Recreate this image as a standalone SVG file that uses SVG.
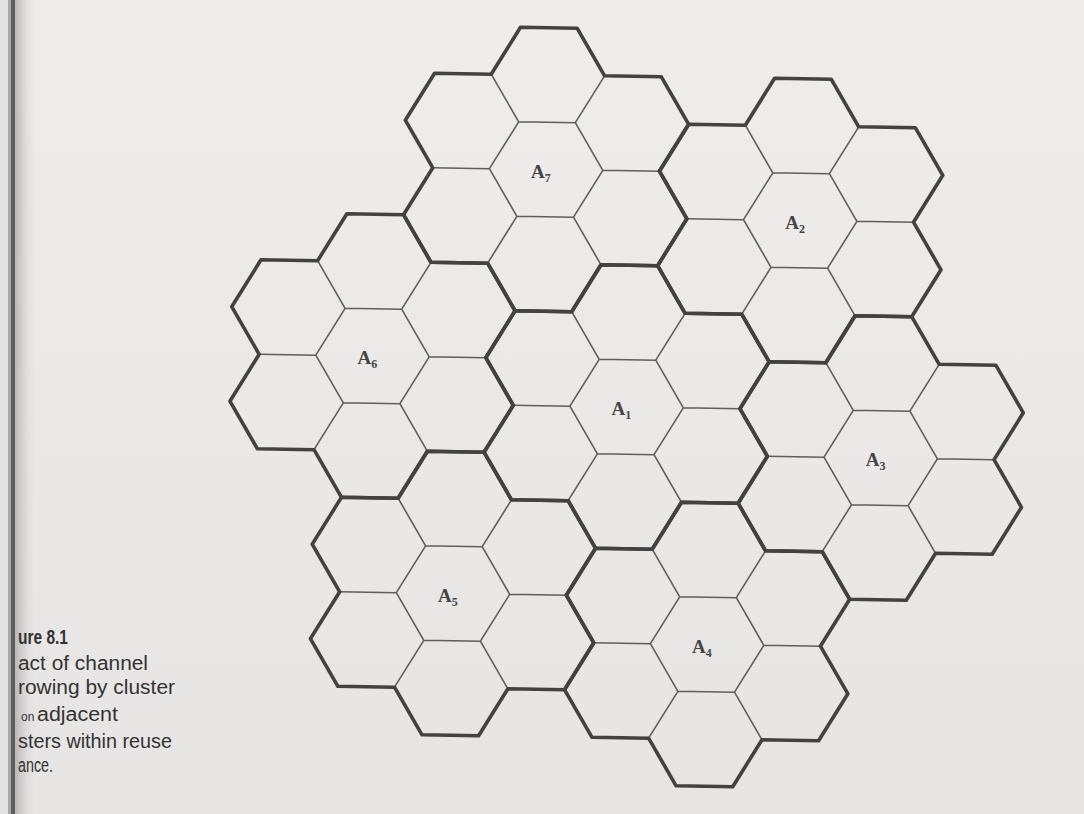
<svg xmlns="http://www.w3.org/2000/svg" xmlns:xlink="http://www.w3.org/1999/xlink" width="1084" height="814" viewBox="0 0 1084 814">
<defs>
<linearGradient id="page" x1="0" y1="0" x2="0" y2="1">
<stop offset="0" stop-color="#eeedeb"/>
<stop offset="1" stop-color="#e7e5e3"/>
</linearGradient>
<linearGradient id="bind" x1="0" y1="0" x2="1" y2="0">
<stop offset="0" stop-color="#b8b7b7"/>
<stop offset="1" stop-color="#e6e4e2" stop-opacity="0"/>
</linearGradient>
<path id="inner" d="M56.7,0.8 L29.2,-46.8 L-27.4,-47.7 L-56.7,-0.8 L-29.2,46.8 L27.4,47.7 Z M56.7,0.8 L113.3,1.7 M29.2,-46.8 L58.5,-93.7 M-27.4,-47.7 L-54.9,-95.3 M-56.7,-0.8 L-113.3,-1.7 M-29.2,46.8 L-58.5,93.7 M27.4,47.7 L54.9,95.3"/>
<path id="flower" d="M-25.6,-142.2 L31,-141.3 L58.5,-93.7 L115.1,-92.8 L142.6,-45.2 L113.3,1.7 L140.8,49.3 L111.5,96.2 L54.9,95.3 L25.6,142.2 L-31,141.3 L-58.5,93.7 L-115.1,92.8 L-142.6,45.2 L-113.3,-1.7 L-140.8,-49.3 L-111.5,-96.2 L-54.9,-95.3 Z"/>
</defs>
<style>
.thin{fill:none;stroke:#5e5e5e;stroke-width:1.6;stroke-linejoin:round}
.thick{fill:none;stroke:#424242;stroke-width:3.6;stroke-linejoin:round}
.lab{font-family:"Liberation Sans",Arial,sans-serif;font-family:"Liberation Serif","Times New Roman",serif;font-weight:bold;font-size:19px;fill:#454545}
.sub{font-size:12px}
.cap{font-family:"Liberation Sans",Arial,sans-serif;font-size:20px;fill:#333333}
.small{font-size:12px}
</style>
<rect x="0" y="0" width="1084" height="814" fill="url(#page)"/>
<g id="binding">
<rect x="0" y="0" width="8" height="814" fill="#e2e1e1"/>
<rect x="8" y="0" width="5" height="814" fill="#a9a8a8"/>
<rect x="11" y="0" width="4" height="814" fill="#5e5e5e"/>
<rect x="15" y="0" width="22" height="814" fill="url(#bind)"/>
</g>
<g id="connectors"></g>
<g id="cluster-A1" transform="translate(626.6,407)">
<use href="#inner" class="thin"/><use href="#flower" class="thick"/>
<text class="lab" x="-15" y="8">A<tspan class="sub" dy="4">1</tspan></text>
</g>
<g id="cluster-A2" transform="translate(800.2,220.5)">
<use href="#inner" class="thin"/><use href="#flower" class="thick"/>
<text class="lab" x="-15" y="8">A<tspan class="sub" dy="4">2</tspan></text>
</g>
<g id="cluster-A3" transform="translate(880.7,458)">
<use href="#inner" class="thin"/><use href="#flower" class="thick"/>
<text class="lab" x="-15" y="8">A<tspan class="sub" dy="4">3</tspan></text>
</g>
<g id="cluster-A4" transform="translate(707.1,644.5)">
<use href="#inner" class="thin"/><use href="#flower" class="thick"/>
<text class="lab" x="-15" y="8">A<tspan class="sub" dy="4">4</tspan></text>
</g>
<g id="cluster-A5" transform="translate(453,593.5)">
<use href="#inner" class="thin"/><use href="#flower" class="thick"/>
<text class="lab" x="-15" y="8">A<tspan class="sub" dy="4">5</tspan></text>
</g>
<g id="cluster-A6" transform="translate(372.5,356)">
<use href="#inner" class="thin"/><use href="#flower" class="thick"/>
<text class="lab" x="-15" y="8">A<tspan class="sub" dy="4">6</tspan></text>
</g>
<g id="cluster-A7" transform="translate(546.1,169.5)">
<use href="#inner" class="thin"/><use href="#flower" class="thick"/>
<text class="lab" x="-15" y="8">A<tspan class="sub" dy="4">7</tspan></text>
</g>
<g id="caption">
<text class="cap" x="18" y="644" font-weight="bold" textLength="50" lengthAdjust="spacingAndGlyphs">ure 8.1</text>
<text class="cap" x="18" y="670" textLength="130" lengthAdjust="spacingAndGlyphs">act of channel</text>
<text class="cap" x="18" y="694" textLength="157" lengthAdjust="spacingAndGlyphs">rowing by cluster</text>
<text class="cap small" x="21" y="721">on</text>
<text class="cap" x="37" y="721" textLength="81" lengthAdjust="spacingAndGlyphs">adjacent</text>
<text class="cap" x="18" y="748" textLength="154" lengthAdjust="spacingAndGlyphs">sters within reuse</text>
<text class="cap" x="18" y="772" textLength="35" lengthAdjust="spacingAndGlyphs">ance.</text>
</g>
</svg>
